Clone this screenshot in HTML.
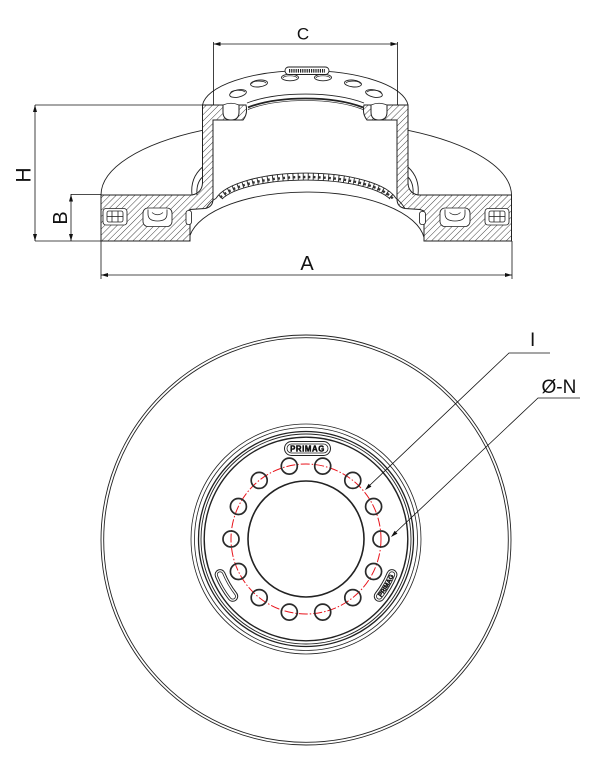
<!DOCTYPE html>
<html>
<head>
<meta charset="utf-8">
<style>
  html,body{margin:0;padding:0;background:#fff;}
  svg{display:block;}
  text{font-family:"Liberation Sans", Arial, sans-serif; fill:#111;}
</style>
</head>
<body>
<svg width="602" height="757" viewBox="0 0 602 757" xmlns="http://www.w3.org/2000/svg">
  <defs>
    <pattern id="h" patternUnits="userSpaceOnUse" width="4.4" height="4.4" patternTransform="rotate(45)">
      <line x1="0" y1="0" x2="0" y2="4.4" stroke="#222" stroke-width="0.85"/>
    </pattern>
    <clipPath id="band">
      <path d="M216,198.4 A92,32 0 0 1 396,198.4 L390,199 A88,27 0 0 0 222,199 Z"/>
    </clipPath>
    <path id="rs" d="M379.3,596.3 A93,93 0 0 0 391.9,574.6"/>
  </defs>
  <rect width="602" height="757" fill="#fff"/>

  <!-- ================= TOP: CROSS SECTION ================= -->
  <g fill="none" stroke="#222" stroke-width="0.9">
    <path d="M101,195 A205,75 0 0 1 202.5,130.3"/>
    <path d="M408,130.3 A205,75 0 0 1 511.5,195"/>
    <path d="M202.5,105 A103,37 0 0 1 408,105"/>
    <path d="M247,103 A80,28 0 0 1 364,103"/>
    <path d="M248,107.4 A78,27.5 0 0 1 363,107.4" stroke-width="1.8"/>
    <path d="M248,109.5 A78,27.5 0 0 1 363,109.5" stroke-width="0.7"/>
    <path d="M190,235.5 A118,51 0 0 1 424,237.5"/>
    <path d="M216,198.4 A92,32 0 0 1 396,198.4"/>
    <path d="M222,199 A88,27 0 0 1 390,199"/>
    <path d="M206,208.5 Q211,201 216,198.4"/>
    <path d="M405,208.5 Q400,201 396,198.4"/>
    <path d="M192,195 Q190,178 202.5,167"/>
    <path d="M197,195 Q196,183 202.5,177"/>
    <path d="M418,195 Q420,178 408,167"/>
    <path d="M413,195 Q414,183 408,177"/>
  </g>
  <!-- band texture -->
  <g clip-path="url(#band)" fill="none">
    <path d="M216,206 A90,30 0 0 1 396,206" stroke="#222" stroke-width="10" stroke-dasharray="0.9 4.2"/>
    <path d="M216,206.5 A90,29.5 0 0 1 396,206.5" stroke="#333" stroke-width="2.4" stroke-dasharray="2.4 2.7"/>
  </g>

  <!-- flange holes -->
  <g fill="#fff" stroke="#222" stroke-width="0.9">
    <ellipse cx="238" cy="93.5" rx="8.5" ry="3.6" transform="rotate(-12 238 93.5)"/>
    <ellipse cx="259" cy="83.5" rx="8.5" ry="3.4" transform="rotate(-6 259 83.5)"/>
    <ellipse cx="290" cy="77.5" rx="8.5" ry="3.3"/>
    <ellipse cx="323" cy="77.5" rx="8.5" ry="3.3"/>
    <ellipse cx="353" cy="83.5" rx="8.5" ry="3.4" transform="rotate(6 353 83.5)"/>
    <ellipse cx="374" cy="93.5" rx="8.5" ry="3.6" transform="rotate(12 374 93.5)"/>
  </g>
  <g fill="none" stroke="#222" stroke-width="0.7">
    <path d="M231,93.5 A7,2.4 0 0 1 245,92"/>
    <path d="M252,84 A7,2.3 0 0 1 266,83"/>
    <path d="M283,78 A7,2.2 0 0 1 297,78"/>
    <path d="M316,78 A7,2.2 0 0 1 330,78"/>
    <path d="M346,83 A7,2.3 0 0 1 360,84"/>
    <path d="M367,92 A7,2.4 0 0 1 381,93.5"/>
  </g>
  <rect x="285" y="67" width="44" height="7.5" rx="3.7" fill="#fff" stroke="#222" stroke-width="0.9"/>
  <line x1="289" y1="70.8" x2="325" y2="70.8" stroke="#222" stroke-width="3.6" stroke-dasharray="1.2 1"/>

  <!-- hatched sections -->
  <g stroke="#222" stroke-width="1" fill="url(#h)">
    <path d="M202.5,105 L223,105 L223,112 Q223,120 231,120 Q239,120 239,112 L239,105 L246,105 Q248,114 243,120 L213,120 L213,199 Q213,207 205,208.5 L190,209.5 L190,241 L101,241 L101,195 L192,195 Q202,193 202.5,183 Z"/>
    <path d="M408,105 L387,105 L387,112 Q387,120 379,120 Q371,120 371,112 L371,105 L364,105 Q362,114 367,120 L397,120 L397,199 Q397,207 405,208.5 L420,209.5 L424,211 L424,241 L511.5,241 L511.5,195 L418,195 Q408.5,193 408,183 Z"/>
  </g>
  <g fill="none" stroke="#222" stroke-width="0.8">
    <path d="M223,105 Q231,101.5 239,105"/>
    <path d="M371,105 Q379,101.5 387,105"/>
  </g>

  <!-- vane pockets -->
  <g fill="#fff" stroke="#222" stroke-width="0.85">
    <rect x="103" y="208.5" width="24" height="16.5" rx="3"/>
    <rect x="143" y="208" width="29" height="18.5" rx="5"/>
    <rect x="186" y="210.5" width="5.5" height="14" rx="2.5"/>
    <rect x="419.5" y="211.5" width="6" height="13" rx="2.5"/>
    <rect x="440" y="208" width="30" height="18.5" rx="5"/>
    <rect x="485" y="208.5" width="24" height="16.5" rx="3"/>
  </g>
  <g fill="none" stroke="#222" stroke-width="0.8">
    <rect x="107" y="211" width="16" height="11" rx="2"/>
    <line x1="112" y1="211" x2="112" y2="222"/>
    <line x1="118" y1="211" x2="118" y2="222"/>
    <line x1="107" y1="216.5" x2="123" y2="216.5"/>
    <path d="M148,209.5 L148,214 Q148,221 157.5,221 Q167,221 167,214 L167,209.5"/>
    <path d="M152,212.5 Q157.5,217 163,212.5"/>
    <path d="M445,209.5 L445,214 Q445,221 455,221 Q465,221 465,214 L465,209.5"/>
    <path d="M449.5,212.5 Q455,217 460.5,212.5"/>
    <rect x="489" y="211" width="16" height="11" rx="2"/>
    <line x1="494" y1="211" x2="494" y2="222"/>
    <line x1="500" y1="211" x2="500" y2="222"/>
    <line x1="489" y1="216.5" x2="505" y2="216.5"/>
  </g>

  <!-- dimension lines -->
  <g stroke="#111" stroke-width="0.8" fill="none">
    <line x1="213.5" y1="44" x2="397.5" y2="44"/>
    <line x1="213.5" y1="42" x2="213.5" y2="105"/>
    <line x1="397.5" y1="42" x2="397.5" y2="105"/>
    <line x1="35" y1="105" x2="35" y2="241"/>
    <line x1="35" y1="105" x2="213" y2="105"/>
    <line x1="35" y1="241" x2="101" y2="241"/>
    <line x1="71" y1="194" x2="71" y2="241"/>
    <line x1="71" y1="194.5" x2="101" y2="194.5"/>
    <line x1="101" y1="275" x2="512" y2="275"/>
    <line x1="101" y1="241" x2="101" y2="279"/>
    <line x1="512" y1="241" x2="512" y2="279"/>
  </g>
  <g fill="#111">
    <polygon points="213.5,44 220.5,42 220.5,46"/>
    <polygon points="397.5,44 390.5,42 390.5,46"/>
    <polygon points="35,105 33,112 37,112"/>
    <polygon points="35,241 33,234 37,234"/>
    <polygon points="71,194.5 69,201.5 73,201.5"/>
    <polygon points="71,241 69,234 73,234"/>
    <polygon points="101,275 108,273 108,277"/>
    <polygon points="512,275 505,273 505,277"/>
  </g>
  <text x="303" y="39.5" font-size="17" text-anchor="middle">C</text>
  <text x="307" y="270" font-size="20" text-anchor="middle">A</text>
  <text transform="translate(30.5,175) rotate(-90)" font-size="21" text-anchor="middle">H</text>
  <text transform="translate(67,218) rotate(-90)" font-size="20" text-anchor="middle">B</text>

  <!-- ================= BOTTOM: PLAN VIEW ================= -->
  <g fill="none" stroke="#222">
    <circle cx="306" cy="540" r="205" stroke-width="0.9"/>
    <circle cx="306" cy="540" r="202.3" stroke-width="0.9"/>
    <circle cx="306" cy="539" r="115" stroke-width="0.8"/>
    <circle cx="306" cy="539" r="111.5" stroke-width="0.8"/>
    <circle cx="306" cy="539" r="107.5" stroke-width="1.3"/>
    <circle cx="306" cy="539" r="105" stroke-width="0.9"/>
    <circle cx="306" cy="539" r="101.8" stroke-width="1.4"/>
    <circle cx="306" cy="539" r="58" stroke-width="1.6"/>
  </g>
  <circle cx="306" cy="539" r="75" fill="none" stroke="#e8141c" stroke-width="1" stroke-dasharray="9 2 1.5 2"/>
  <g fill="none" stroke="#2a2a2a" stroke-width="1.7">
    <circle cx="322.7" cy="466.1" r="8"/>
    <circle cx="352.8" cy="480.4" r="8"/>
    <circle cx="373.6" cy="506.5" r="8"/>
    <circle cx="381" cy="539" r="8"/>
    <circle cx="373.6" cy="571.5" r="8"/>
    <circle cx="352.8" cy="597.6" r="8"/>
    <circle cx="322.7" cy="612.1" r="8"/>
    <circle cx="289.3" cy="612.1" r="8"/>
    <circle cx="259.2" cy="597.6" r="8"/>
    <circle cx="238.4" cy="571.5" r="8"/>
    <circle cx="231" cy="539" r="8"/>
    <circle cx="238.4" cy="506.5" r="8"/>
    <circle cx="259.2" cy="480.4" r="8"/>
    <circle cx="289.3" cy="466.1" r="8"/>
  </g>

  <g fill="none" stroke-linecap="round">
    <path d="M232.7,596.3 A93,93 0 0 1 220.1,574.6" stroke="#222" stroke-width="11"/>
    <path d="M232.7,596.3 A93,93 0 0 1 220.1,574.6" stroke="#fff" stroke-width="9"/>
    <path d="M232.7,596.3 A93,93 0 0 1 220.1,574.6" stroke="#222" stroke-width="6.4"/>
    <path d="M232.7,596.3 A93,93 0 0 1 220.1,574.6" stroke="#fff" stroke-width="4.8"/>
  </g>
  <g fill="none" stroke-linecap="round">
    <path d="M391.9,574.6 A93,93 0 0 1 379.3,596.3" stroke="#222" stroke-width="11"/>
    <path d="M391.9,574.6 A93,93 0 0 1 379.3,596.3" stroke="#fff" stroke-width="9"/>
    <path d="M391.9,574.6 A93,93 0 0 1 379.3,596.3" stroke="#222" stroke-width="6.4"/>
    <path d="M391.9,574.6 A93,93 0 0 1 379.3,596.3" stroke="#fff" stroke-width="4.8"/>
  </g>
  <text font-size="6.2" font-weight="bold" dy="2.1" stroke="#111" stroke-width="0.4"><textPath href="#rs" startOffset="50%" text-anchor="middle">PRIMAG</textPath></text>

  <rect x="284.5" y="441.5" width="46" height="14" rx="7" fill="#fff" stroke="#222" stroke-width="1"/>
  <rect x="287" y="444" width="41" height="9" rx="4.5" fill="none" stroke="#222" stroke-width="0.8"/>
  <text x="307.5" y="451.7" font-size="7.8" font-weight="bold" text-anchor="middle" letter-spacing="0.6" stroke="#111" stroke-width="0.5">PRIMAG</text>

  <g stroke="#111" stroke-width="0.8" fill="none">
    <polyline points="550,353 509,353 369,486"/>
    <polyline points="580,398 538,398 395,533"/>
  </g>
  <g fill="#111">
    <polygon points="365,490 371.45,486.63 368.69,483.73"/>
    <polygon points="391,537 397.46,533.64 394.71,530.74"/>
  </g>
  <text x="530" y="346" font-size="19">I</text>
  <text x="541.5" y="393" font-size="19">Ø-N</text>
</svg>
</body>
</html>
